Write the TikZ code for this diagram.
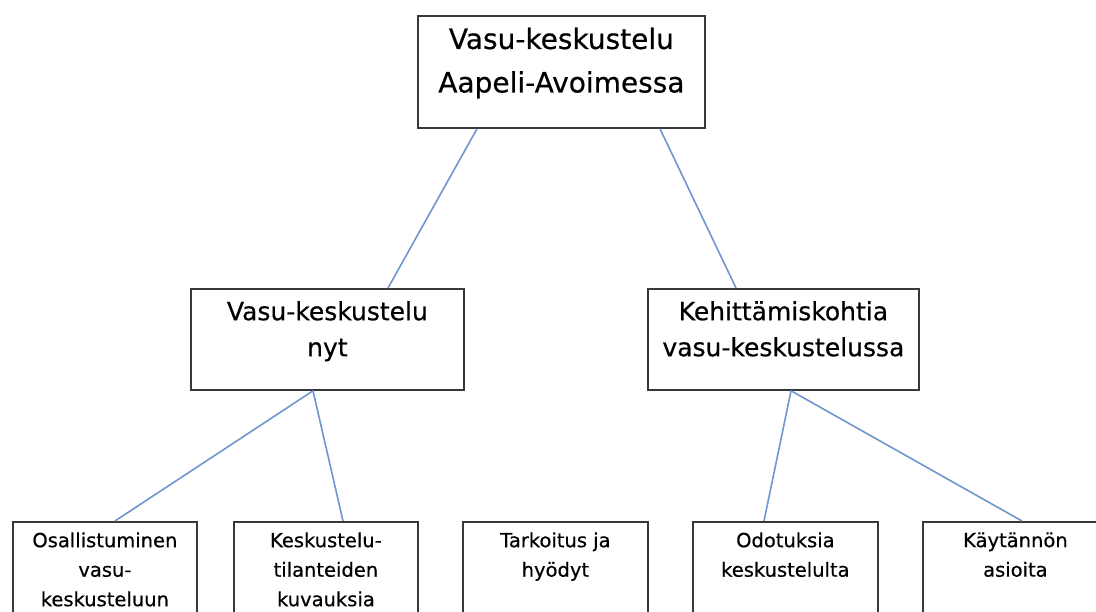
\documentclass[tikz,border=0pt]{standalone}
\usepackage{fontspec}
\setmainfont{DejaVu Sans}[FakeBold=0.5]
\usetikzlibrary{calc}
\definecolor{boxline}{HTML}{383838}
\definecolor{conn}{HTML}{6F97CF}
\tikzset{
  box/.style={draw=boxline, line width=1.8pt, fill=white, inner sep=0pt, anchor=north west},
  link/.style={draw=conn, line width=1.6pt},
  ttop/.style={anchor=north, inner sep=0pt, align=center, font=\fontsize{28}{43.5}\selectfont},
  tmid/.style={anchor=north, inner sep=0pt, align=center, font=\fontsize{25}{36}\selectfont},
  tbot/.style={anchor=north, inner sep=0pt, align=center, font=\fontsize{19.5}{29.5}\selectfont},
}
\begin{document}
\begin{tikzpicture}[x=1pt,y=-1pt]
\useasboundingbox (0,0) rectangle (1096,612);
\clip (0,0) rectangle (1096,612);
\fill[white] (0,0) rectangle (1096,612);
% boxes
\node[box, minimum width=287pt, minimum height=112pt] (top) at (417,15) {};
\node[box, minimum width=273pt, minimum height=101pt] (midL) at (190,288) {};
\node[box, minimum width=271pt, minimum height=101pt] (midR) at (647,288) {};
\node[box, minimum width=184pt, minimum height=130pt] (b1) at (12,521) {};
\node[box, minimum width=184pt, minimum height=130pt] (b2) at (233,521) {};
\node[box, minimum width=185pt, minimum height=130pt] (b3) at (462,521) {};
\node[box, minimum width=185pt, minimum height=130pt] (b4) at (692,521) {};
\node[box, minimum width=185pt, minimum height=130pt] (b5) at (922,521) {};
% connectors
\draw[link] ([xshift=60pt]top.south west) -- ([xshift=198pt]midL.north west);
\draw[link] ([xshift=243pt]top.south west) -- ([xshift=89pt]midR.north west);
\draw[link] ([xshift=123pt]midL.south west) -- ([xshift=103pt]b1.north west);
\draw[link] ([xshift=123pt]midL.south west) -- ([xshift=110pt]b2.north west);
\draw[link] ([xshift=144pt]midR.south west) -- ([xshift=72pt]b4.north west);
\draw[link] ([xshift=144pt]midR.south west) -- ([xshift=100pt]b5.north west);
% texts
\node[ttop, yshift=-12.5pt] (topT) at (top.north) {Vasu-keskustelu\\Aapeli-Avoimessa};
\node[tmid, yshift=-13pt] (midLT) at (midL.north) {Vasu-keskustelu\\nyt};
\node[tmid, yshift=-13pt] (midRT) at (midR.north) {Kehittämiskohtia\\vasu-keskustelussa};
\node[tbot, yshift=-11.2pt] (b1T) at (b1.north) {Osallistuminen\\vasu-\\keskusteluun};
\node[tbot, yshift=-11.2pt] (b2T) at (b2.north) {Keskustelu-\\tilanteiden\\kuvauksia};
\node[tbot, yshift=-11.2pt] (b3T) at (b3.north) {Tarkoitus ja\\hyödyt};
\node[tbot, yshift=-11.2pt] (b4T) at (b4.north) {Odotuksia\\keskustelulta};
\node[tbot, yshift=-11.2pt] (b5T) at (b5.north) {Käytännön\\asioita};
\end{tikzpicture}
\end{document}
